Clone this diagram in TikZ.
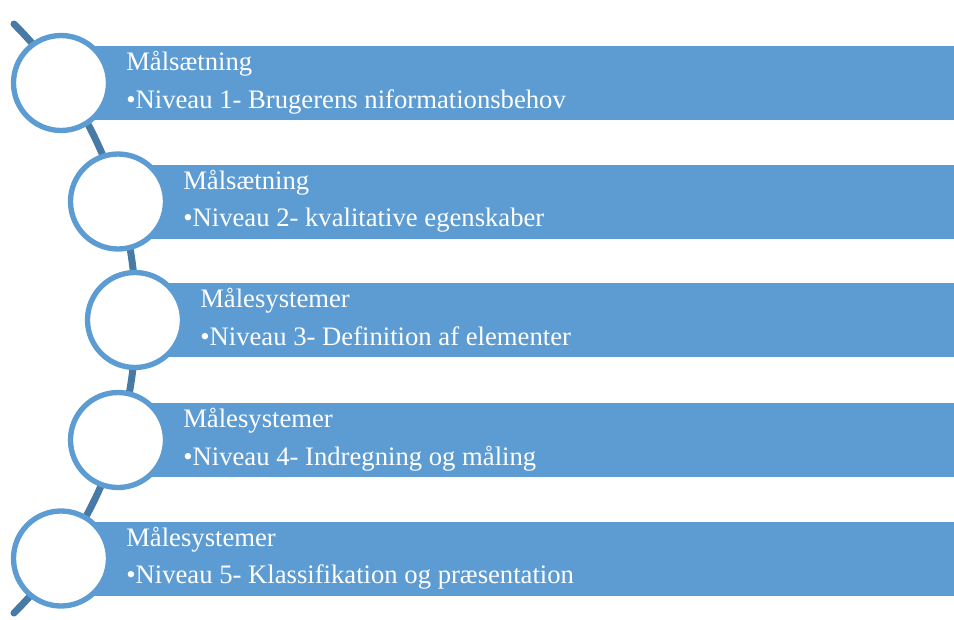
\documentclass[tikz,border=0pt]{standalone}
\usepackage{fontspec}
\setmainfont{Liberation Serif}
\usetikzlibrary{positioning}
\definecolor{barblue}{RGB}{93,156,211}
\definecolor{spineblue}{RGB}{72,122,166}

\begin{document}
\begin{tikzpicture}[
    x=0.75pt, y=-0.75pt,
    font=\fontsize{20}{24}\selectfont,
    bar/.style={fill=barblue, anchor=west, minimum height=55.5pt, inner sep=0pt, outer sep=0pt},
    ring/.style={circle, draw=barblue, fill=white, line width=4pt, minimum size=71.25pt, inner sep=0pt},
    lbl/.style={text=white, anchor=base west, inner sep=0pt},
    spine/.style={draw=spineblue, line width=5.25pt, line cap=round}
]
\useasboundingbox (0,0) rectangle (954,619);

\coordinate (spinetop) at (14,24);
\draw[spine] (spinetop) arc[start angle=-45, end angle=45, radius=416.5];

\node[bar, minimum width=669.75pt] (bar1) at (61,83) {};
\node[bar, minimum width=627pt] (bar2) at (118,201.5) {};
\node[bar, minimum width=614.25pt] (bar3) at (135,320) {};
\node[bar, minimum width=627pt] (bar4) at (118,440) {};
\node[bar, minimum width=669.75pt] (bar5) at (61,558.5) {};

\node[ring] (ring1) at (61,83) {};
\node[ring] (ring2) at (118,201.5) {};
\node[ring] (ring3) at (135,320) {};
\node[ring] (ring4) at (118,440) {};
\node[ring] (ring5) at (61,558.5) {};

\node[lbl] (maal1) at (126,70.5) {Målsætning};
\node[lbl] (niv1) at (126,108) {•Niveau 1- Brugerens niformationsbehov};
\node[lbl] (maal2) at (183,189) {Målsætning};
\node[lbl] (niv2) at (183,226.5) {•Niveau 2- kvalitative egenskaber};
\node[lbl] (maal3) at (200,307.5) {Målesystemer};
\node[lbl] (niv3) at (200,345) {•Niveau 3- Definition af elementer};
\node[lbl] (maal4) at (183,427.5) {Målesystemer};
\node[lbl] (niv4) at (183,465) {•Niveau 4- Indregning og måling};
\node[lbl] (maal5) at (126,546) {Målesystemer};
\node[lbl] (niv5) at (126,583.5) {•Niveau 5- Klassifikation og præsentation};
\end{tikzpicture}
\end{document}
